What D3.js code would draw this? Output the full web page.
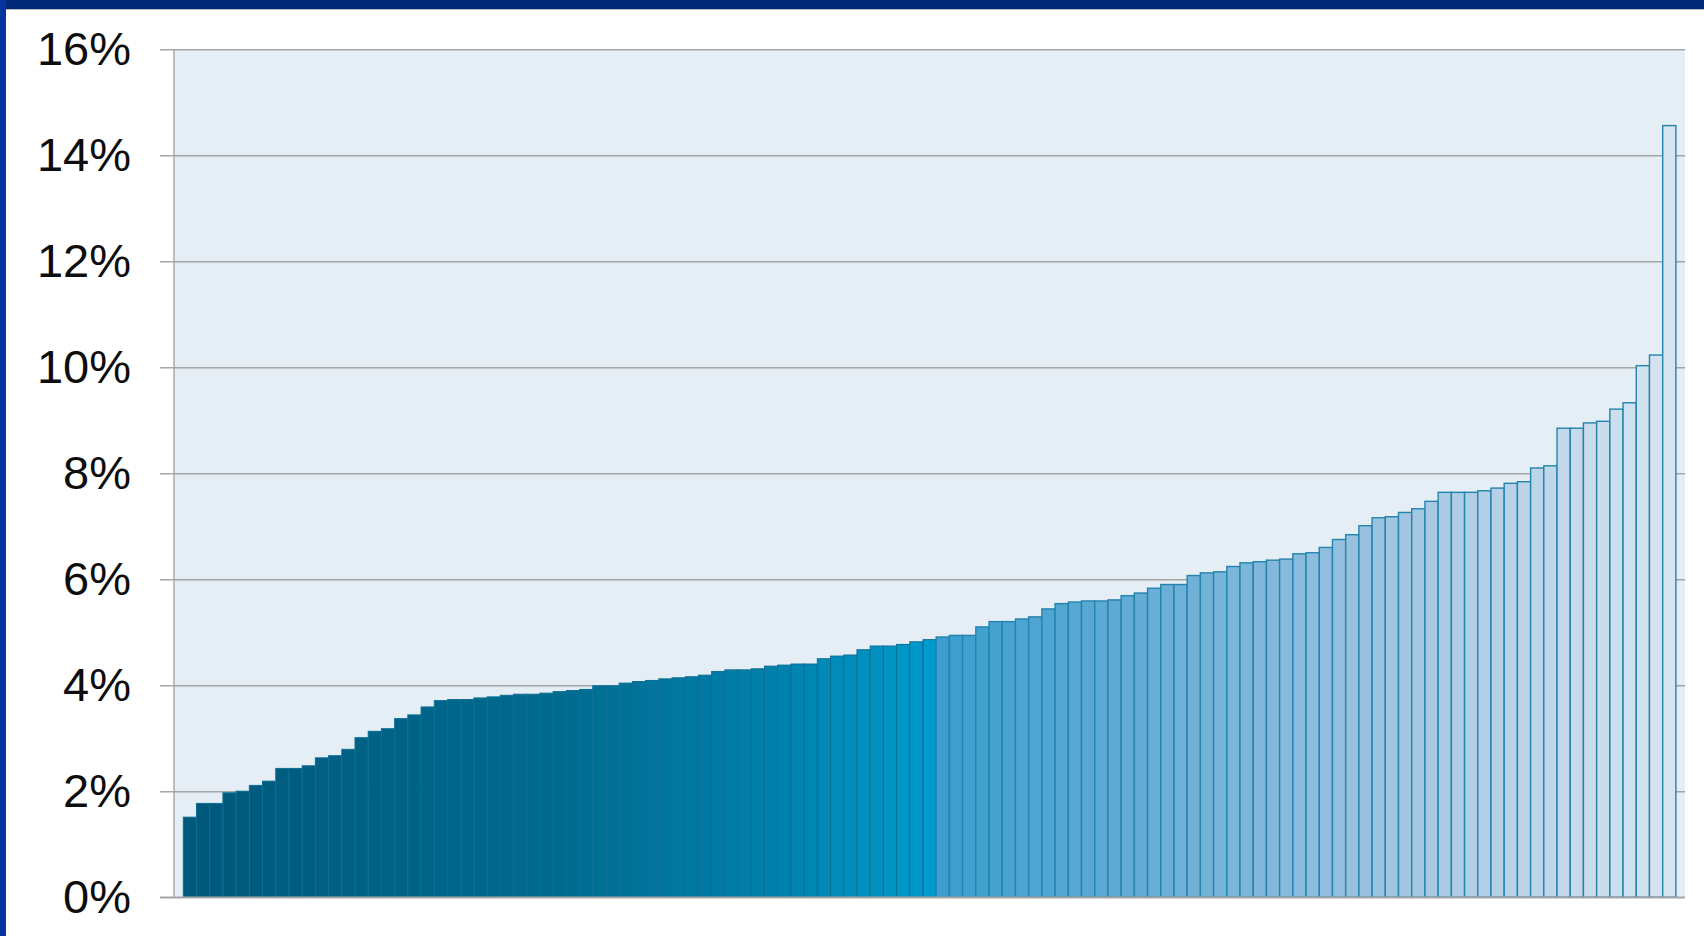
<!DOCTYPE html>
<html>
<head>
<meta charset="utf-8">
<script src="https://cdn.jsdelivr.net/npm/d3@7"></script>
<style>
  html, body { margin: 0; padding: 0; background: #ffffff; }
  svg { display: block; }
</style>
</head>
<body>
<svg id="chart" width="1704" height="936"></svg>
<script>
// Values (percent), sorted ascending
const values = [
  1.51, 1.77, 1.77, 1.97, 2.00, 2.11, 2.19, 2.43, 2.43, 2.48,
  2.63, 2.67, 2.79, 3.01, 3.13, 3.18, 3.37, 3.44, 3.59, 3.71,
  3.73, 3.73, 3.76, 3.78, 3.81, 3.83, 3.83, 3.85, 3.88, 3.90,
  3.92, 3.99, 3.99, 4.04, 4.07, 4.09, 4.12, 4.14, 4.16, 4.19,
  4.26, 4.29, 4.29, 4.31, 4.36, 4.38, 4.40, 4.40, 4.50, 4.55,
  4.57, 4.67, 4.74, 4.74, 4.77, 4.82, 4.86, 4.91, 4.94, 4.94,
  5.10, 5.20, 5.20, 5.25, 5.29, 5.44, 5.54, 5.57, 5.59, 5.59,
  5.61, 5.69, 5.74, 5.83, 5.90, 5.90, 6.07, 6.12, 6.14, 6.24,
  6.31, 6.33, 6.36, 6.38, 6.48, 6.50, 6.60, 6.75, 6.84, 7.01,
  7.16, 7.18, 7.26, 7.33, 7.47, 7.64, 7.64, 7.64, 7.67, 7.72,
  7.81, 7.84, 8.10, 8.14, 8.85, 8.85, 8.95, 8.98, 9.21, 9.33,
  10.03, 10.23, 14.56
];
const categories = values.map((d, i) => "c" + (i + 1));
const yTicks = [0, 2, 4, 6, 8, 10, 12, 14, 16];
const tickLabels = yTicks.map(t => t + "%");

const svg = d3.select("#chart");

// Frame: dark blue top band and left band
svg.append("rect").attr("x", 0).attr("y", 0).attr("width", 1704).attr("height", 9).attr("fill", "#002a78");
svg.append("rect").attr("x", 0).attr("y", 9).attr("width", 1704).attr("height", 1).attr("fill", "#b8b8b8");
svg.append("rect").attr("x", 0).attr("y", 0).attr("width", 6).attr("height", 936).attr("fill", "#0534a0");

const plot = { left: 174, right: 1685, top: 49.3, bottom: 897.2 };

const x = d3.scaleBand()
  .domain(categories)
  .range([183.3, 1675.9])
  .paddingInner(0)
  .paddingOuter(0);

const y = d3.scaleLinear()
  .domain([0, 16])
  .range([plot.bottom, plot.top]);

// Plot background
svg.append("rect")
  .attr("x", plot.left).attr("y", plot.top)
  .attr("width", plot.right - plot.left).attr("height", plot.bottom - plot.top)
  .attr("fill", "#e5edf5");

// Gridlines + tick marks
const yAxis = d3.axisLeft(y)
  .tickValues(yTicks)
  .tickFormat((d, i) => tickLabels[i])
  .tickSize(-(plot.right - plot.left));

const gAxis = svg.append("g")
  .attr("transform", `translate(${plot.left},0)`)
  .call(yAxis);
gAxis.select(".domain").remove();
gAxis.selectAll(".tick line")
  .attr("x1", -14)
  .attr("stroke", "#a5a5a5")
  .attr("stroke-width", 1.4);
gAxis.selectAll(".tick text")
  .attr("fill", "#0d0d0d")
  .attr("font-family", "'Liberation Sans', Arial, sans-serif")
  .attr("font-size", 47)
  .attr("x", -43)
  .attr("dy", "0.33em");

// Left axis line
svg.append("line")
  .attr("x1", plot.left).attr("x2", plot.left)
  .attr("y1", plot.top).attr("y2", plot.bottom)
  .attr("stroke", "#a5a5a5").attr("stroke-width", 1.4);

// Color gradient across bars (by bar index)
const split = 57; // first of the lighter, outlined bars
const n = values.length;
const colorStops = [
  [0, "#00587a"],
  [28, "#006b8f"],
  [45, "#0082ae"],
  [split - 1, "#009acc"],
  [split, "#3b9ecf"],
  [70, "#5eaad4"],
  [85, "#8ebcdd"],
  [100, "#b9d2e7"],
  [n - 1, "#d6e5f0"]
];
const color = d3.scaleLinear()
  .domain(colorStops.map(s => s[0]))
  .range(colorStops.map(s => s[1]))
  .interpolate(d3.interpolateRgb);

svg.append("g")
  .selectAll("rect")
  .data(values)
  .join("rect")
  .attr("x", (d, i) => x(categories[i]))
  .attr("y", d => y(d))
  .attr("width", x.bandwidth())
  .attr("height", d => y(0) - y(d))
  .attr("fill", (d, i) => color(i))
  .attr("stroke", (d, i) => i < split ? "#0b6f95" : "#2384ad")
  .attr("stroke-width", (d, i) => i < split ? 1 : 1.4);

// Bottom axis line
svg.append("line")
  .attr("x1", plot.left - 14).attr("x2", plot.right)
  .attr("y1", plot.bottom).attr("y2", plot.bottom)
  .attr("stroke", "#a5a5a5").attr("stroke-width", 1.4);
</script>
</body>
</html>
